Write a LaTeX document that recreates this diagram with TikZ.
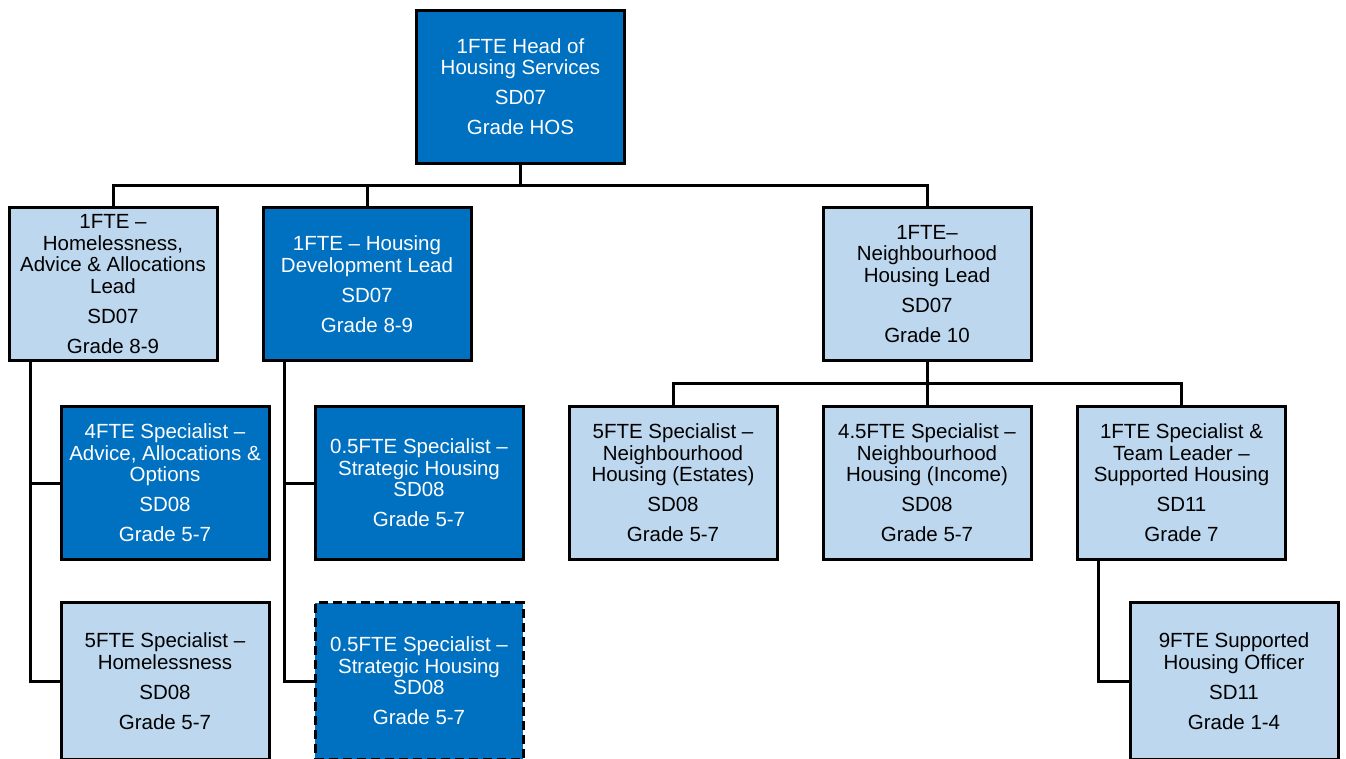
\documentclass[tikz,border=0pt]{standalone}
\usepackage{fontspec}
\setmainfont{Liberation Sans}
\definecolor{darkblue}{HTML}{0070C0}
\definecolor{lightblue}{HTML}{BDD7EE}
\tikzset{
  box/.style={draw=black, line width=3pt, minimum width=208pt, minimum height=153pt,
    inner sep=0pt, align=center, font=\fontsize{20.5}{21.5}\selectfont},
  darkbox/.style={box, fill=darkblue, text=white},
  lightbox/.style={box, fill=lightblue, text=black},
  dashbox/.style={darkbox, dash pattern=on 9pt off 5pt},
  tallbox/.style={minimum height=157pt},
  link/.style={draw=black, line width=3pt}
}
\newcommand{\gap}{\\[8.5pt]}
\begin{document}
\begin{tikzpicture}[x=1pt,y=-1pt]
  \useasboundingbox (0,0) rectangle (1346,758);
  \fill[white] (0,0) rectangle (1346,758);

  % junction points and side trunks
  \coordinate (bus) at (520.5,185);
  \coordinate (busN) at (927,383);
  \coordinate (trunkA) at (30,0);
  \coordinate (trunkB) at (284,0);
  \coordinate (trunkD) at (1098,0);

  % head of service
  \node[darkbox] (head) at (520.5,86.5) {1FTE Head of\\Housing Services\gap SD07\gap Grade HOS};

  % leads
  \node[lightbox] (l1) at (113,284) {1FTE –\\Homelessness,\\Advice \& Allocations\\Lead\gap SD07\gap Grade 8-9};
  \node[darkbox] (l2) at (367,284) {1FTE – Housing\\Development Lead\gap SD07\gap Grade 8-9};
  \node[lightbox] (l3) at (927,284) {1FTE–\\Neighbourhood\\Housing Lead\gap SD07\gap Grade 10};

  % specialists
  \node[darkbox] (a1) at (165,483) {4FTE Specialist –\\Advice, Allocations \&\\Options\gap SD08\gap Grade 5-7};
  \node[lightbox, tallbox] (a2) at (165,681) {5FTE Specialist –\\Homelessness\gap SD08\gap Grade 5-7};
  \node[darkbox] (b1) at (419,483) {0.5FTE Specialist –\\Strategic Housing\\SD08\gap Grade 5-7};
  \node[dashbox, tallbox] (b2) at (419,681) {0.5FTE Specialist –\\Strategic Housing\\SD08\gap Grade 5-7};
  \node[lightbox] (c1) at (673,483) {5FTE Specialist –\\Neighbourhood\\Housing (Estates)\gap SD08\gap Grade 5-7};
  \node[lightbox] (c2) at (927,483) {4.5FTE Specialist –\\Neighbourhood\\Housing (Income)\gap SD08\gap Grade 5-7};
  \node[lightbox] (c3) at (1181.5,483) {1FTE Specialist \&\\Team Leader –\\Supported Housing\gap SD11\gap Grade 7};
  \node[lightbox, tallbox] (d1) at (1234,681) {9FTE Supported\\Housing Officer\gap SD11\gap Grade 1-4};

  % head to leads
  \path[link] (head.south) -- (bus);
  \path[link] (l1.north) |- (bus) -| (l3.north);
  \path[link] (l2.north) -- (l2.north |- bus);

  % neighbourhood lead to its team
  \path[link] (l3.south) -- (busN);
  \path[link] (c1.north) |- (busN) -| (c3.north);
  \path[link] (c2.north) -- (busN);

  % side trunks
  \path[link] (l1.south -| trunkA) |- (a2.west);
  \path[link] (a1.west) -- (a1.west -| trunkA);
  \path[link] (l2.south -| trunkB) |- (b2.west);
  \path[link] (b1.west) -- (b1.west -| trunkB);
  \path[link] (c3.south -| trunkD) |- (d1.west);
\end{tikzpicture}
\end{document}
